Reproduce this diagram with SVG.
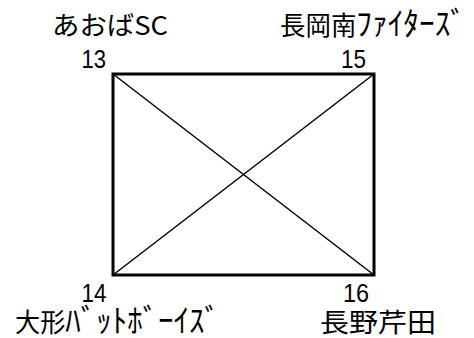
<svg xmlns="http://www.w3.org/2000/svg" width="474" height="338" viewBox="0 0 474 338">
<style>
.lbl{font-family:"Noto Sans CJK JP","Liberation Sans",sans-serif;font-size:26px;fill:#000}
.kana{font-size:32px}
.num{font-family:"Liberation Sans","Noto Sans CJK JP",sans-serif;font-size:25px;fill:#000}
.edge{stroke:#000;stroke-width:1.5;fill:none}
.box{stroke:#000;stroke-width:3;fill:none}
</style>
<rect width="474" height="338" fill="#fff"/>
<g id="connectors">
<rect class="box" x="113" y="74" width="261" height="201"/>
<line class="edge" x1="113" y1="74" x2="374" y2="275"/>
<line class="edge" x1="374" y1="74" x2="113" y2="275"/>
</g>
<g id="node13">
<text class="lbl" x="52" y="35" textLength="116" lengthAdjust="spacingAndGlyphs">あおばSC</text>
<text class="num" x="81.5" y="68" textLength="24.5" lengthAdjust="spacingAndGlyphs">13</text>
</g>
<g id="node15">
<text class="lbl" x="280" y="35" textLength="186" lengthAdjust="spacingAndGlyphs">長岡南<tspan class="kana">ﾌｧｲﾀｰｽﾞ</tspan></text>
<text class="num" x="341" y="68" textLength="25" lengthAdjust="spacingAndGlyphs">15</text>
</g>
<g id="node14">
<text class="num" x="81.5" y="302" textLength="25" lengthAdjust="spacingAndGlyphs">14</text>
<text class="lbl" x="15" y="332" textLength="205" lengthAdjust="spacingAndGlyphs">大形<tspan class="kana">ﾊﾞｯﾄﾎﾞｰｲｽﾞ</tspan></text>
</g>
<g id="node16">
<text class="num" x="343" y="302" textLength="26" lengthAdjust="spacingAndGlyphs">16</text>
<text class="lbl" x="320" y="332" textLength="116" lengthAdjust="spacingAndGlyphs">長野芹田</text>
</g>
</svg>
